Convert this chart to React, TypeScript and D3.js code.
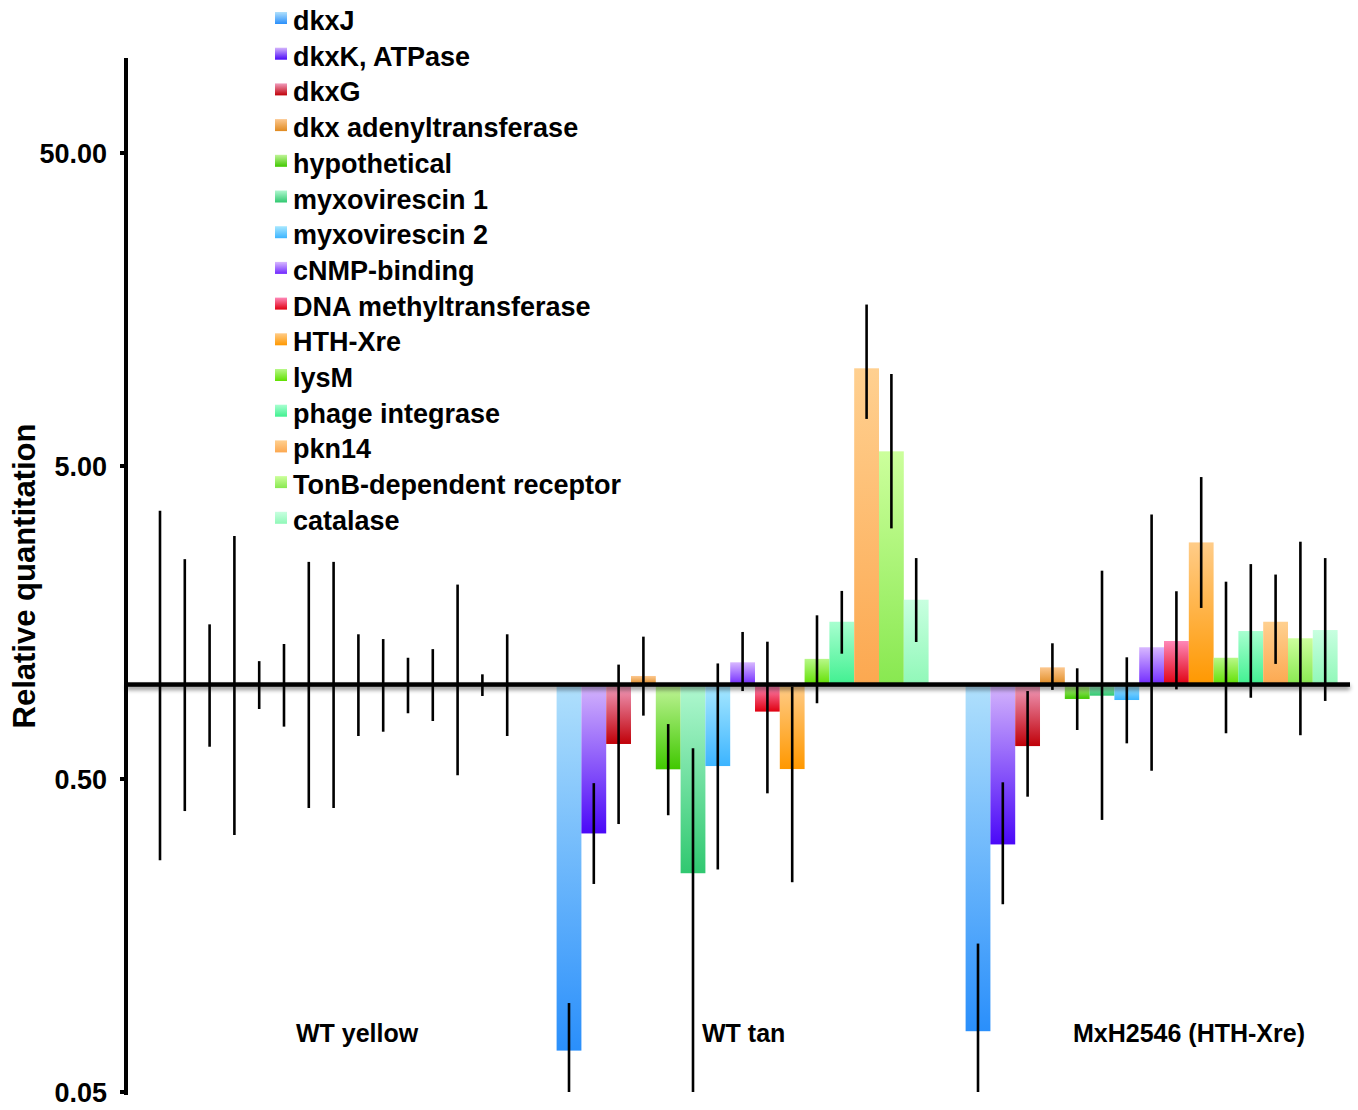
import React from 'react';
import * as d3 from 'd3';

// genes, in legend / bar order
const genes = [
  'dkxJ', 'dkxK, ATPase', 'dkxG', 'dkx adenyltransferase', 'hypothetical',
  'myxovirescin 1', 'myxovirescin 2', 'cNMP-binding', 'DNA methyltransferase', 'HTH-Xre',
  'lysM', 'phage integrase', 'pkn14', 'TonB-dependent receptor', 'catalase',
];

const groups = ['WT yellow', 'WT tan', 'MxH2546 (HTH-Xre)'];

// relative quantitation, with error bar ends
const wtYellow = [1, 1, 1, 1, 1, 1, 1, 1, 1, 1, 1, 1, 1, 1, 1];
const wtYellowHi = [3.6, 2.52, 1.56, 2.99, 1.19, 1.35, 2.47, 2.47, 1.45, 1.4, 1.22, 1.3, 2.09, 1.08, 1.45];
const wtYellowLo = [0.275, 0.395, 0.634, 0.331, 0.837, 0.735, 0.404, 0.404, 0.686, 0.708, 0.811, 0.766, 0.514, 0.921, 0.686];

const wtTan = [0.0678, 0.335, 0.647, 1.067, 0.537, 0.25, 0.55, 1.18, 0.821, 0.538, 1.21, 1.59, 10.26, 5.57, 1.87];
const wtTanHi = [0.0962, 0.485, 1.16, 1.425, 0.749, 0.627, 1.17, 1.475, 1.373, 0.986, 1.667, 1.995, 16.4, 9.84, 2.54];
const wtTanLo = [0.048, 0.231, 0.359, 0.797, 0.383, 0.045, 0.257, 0.955, 0.45, 0.234, 0.873, 1.257, 7.07, 3.16, 1.37];

const mxh = [0.0782, 0.309, 0.637, 1.137, 0.901, 0.923, 0.894, 1.318, 1.38, 2.85, 1.22, 1.485, 1.59, 1.408, 1.496];
const mxhHi = [0.149, 0.488, 0.955, 1.357, 1.129, 2.315, 1.224, 3.5, 1.99, 4.61, 2.135, 2.43, 2.25, 2.865, 2.54];
const mxhLo = [0.045, 0.199, 0.439, 0.963, 0.717, 0.37, 0.65, 0.531, 0.967, 1.76, 0.7, 0.909, 1.166, 0.69, 0.888];

const yTicks = [0.05, 0.5, 5, 50];

// top (light) and bottom (dark) of each gene's gradient
const lightColors = ['#b0e0fc', '#d4b4fc', '#f09cbc', '#fcc890', '#c0f498', '#b0f8d0', '#a8e8ff', '#d8b8ff',
  '#ff88b8', '#ffcc88', '#b8f888', '#a8ffd0', '#ffd090', '#ccff9c', '#c8ffe0'];
const darkColors = ['#2a8ffb', '#4a08f8', '#c00008', '#e08a20', '#40c800', '#30c870', '#3cb4ff', '#7028ff',
  '#e00010', '#ff9800', '#60e000', '#40f090', '#fca850', '#88e850', '#90f8b8'];

const series = [
  { values: wtYellow, hi: wtYellowHi, lo: wtYellowLo, showBars: false },
  { values: wtTan, hi: wtTanHi, lo: wtTanLo, showBars: true },
  { values: mxh, hi: mxhHi, lo: mxhLo, showBars: true },
];

const groupLabelX = [296, 702, 1073];

const W = 1358;
const H = 1110;
const font = '"Liberation Sans", Arial, Helvetica, sans-serif';

export default function App() {
  const y = d3.scaleLog().domain([0.05, 100]).range([1092, 58.8]);
  const yMin = 0.05;

  const x0 = d3.scaleBand<string>().domain(groups).range([147.6, 1337.6]).paddingInner(0.0905);
  const x1 = d3.scaleBand<string>().domain(genes).range([0, x0.bandwidth()]);

  const axisX = 126;
  const base = y(1);

  return (
    <svg width={W} height={H} style={{ position: 'absolute', left: 0, top: 0, background: '#fff' }}
      fontFamily={font}>
      <defs>
        {genes.map((g, i) => (
          <linearGradient key={g} id={'grad' + i} x1="0" y1="0" x2="0" y2="1">
            <stop offset="0" stopColor={lightColors[i]} />
            <stop offset="1" stopColor={darkColors[i]} />
          </linearGradient>
        ))}
        <filter id="shadow" filterUnits="userSpaceOnUse" x={0} y={base - 20} width={W} height={40}>
          <feDropShadow dx="0" dy="3" stdDeviation="2" floodColor="#000" floodOpacity="0.45" />
        </filter>
      </defs>

      {/* bars */}
      {series.map((s, gi) =>
        s.showBars
          ? s.values.map((v, i) => {
              const x = (x0(groups[gi]) as number) + (x1(genes[i]) as number);
              const yv = y(v);
              return (
                <rect key={gi + '-' + i} x={x} width={x1.bandwidth()}
                  y={Math.min(yv, base)} height={Math.abs(yv - base)}
                  fill={`url(#grad${i})`} />
              );
            })
          : null
      )}

      {/* baseline at 1.0 */}
      <rect x={axisX} width={1350 - axisX} y={base - 2.5} height={4.5} fill="#000" filter="url(#shadow)" />

      {/* error bars */}
      {series.map((s, gi) =>
        s.values.map((v, i) => {
          const cx = (x0(groups[gi]) as number) + (x1(genes[i]) as number) + x1.bandwidth() / 2;
          return (
            <line key={'e' + gi + '-' + i} x1={cx} x2={cx}
              y1={y(Math.max(s.lo[i], yMin))} y2={y(s.hi[i])}
              stroke="#000" strokeWidth={2.6} />
          );
        })
      )}

      {/* y axis */}
      <line x1={axisX} x2={axisX} y1={58} y2={1095} stroke="#000" strokeWidth={4} />
      {yTicks.map((t) => (
        <g key={t}>
          <line x1={axisX - 6} x2={axisX} y1={y(t)} y2={y(t)} stroke="#000" strokeWidth={4} />
          <text x={107} y={y(t) + 10} textAnchor="end" fontSize={27} fontWeight="bold">
            {d3.format('.2f')(t)}
          </text>
        </g>
      ))}
      <text transform={`translate(35,${576}) rotate(-90)`} textAnchor="middle" fontSize={31} fontWeight="bold">
        Relative quantitation
      </text>

      {/* group labels */}
      {groups.map((g, gi) => (
        <text key={g} x={groupLabelX[gi]} y={1042} fontSize={25} fontWeight="bold">{g}</text>
      ))}

      {/* legend */}
      {genes.map((g, i) => {
        const by = 30 + i * 35.7;
        return (
          <g key={'l' + g}>
            <rect x={275} y={by - 18} width={12} height={12} fill={`url(#grad${i})`} />
            <text x={293} y={by} fontSize={27} fontWeight="bold">{g}</text>
          </g>
        );
      })}
    </svg>
  );
}
